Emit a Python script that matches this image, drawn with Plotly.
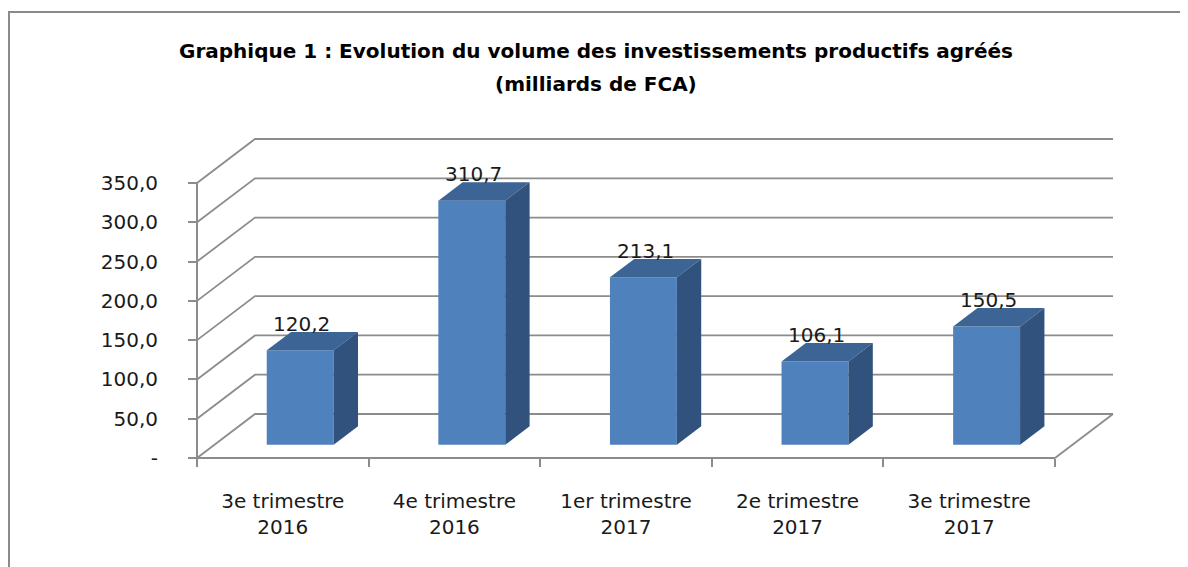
import plotly.graph_objects as go

# ---------------- data ----------------
categories = ["3e trimestre<br>2016", "4e trimestre<br>2016", "1er trimestre<br>2017",
              "2e trimestre<br>2017", "3e trimestre<br>2017"]
values = [120.2, 310.7, 213.1, 106.1, 150.5]
value_labels = ["120,2", "310,7", "213,1", "106,1", "150,5"]
y_ticks = [0, 50, 100, 150, 200, 250, 300, 350]
y_tick_labels = ["-", "50,0", "100,0", "150,0", "200,0", "250,0", "300,0", "350,0"]
title_line1 = "Graphique 1 : Evolution du volume des investissements productifs agréés"
title_line2 = "(milliards de FCA)"

# ---------------- geometry / style ----------------
W, H = 1188, 567
OFF = 8                                   # page body margin compensation
AX_LEFT_PX, AX_RIGHT_PX = 197 - OFF, 1055 - OFF   # front axis, px from left
AX_ZERO_PX, AX_TOP_PX = 458 - OFF, 183 - OFF      # front axis, px from top
YMAX = y_ticks[-1]
n = len(categories)
px_per_cat = (AX_RIGHT_PX - AX_LEFT_PX) / n
px_per_unit = (AX_ZERO_PX - AX_TOP_PX) / YMAX
DX = 58 / px_per_cat          # depth offset (category units)
DY = 44 / px_per_unit         # depth offset (value units)
ZF, ZB = 0.30, 0.72           # bar depth span
BAR_W = 0.39

x_range = [-0.5 - AX_LEFT_PX / px_per_cat, -0.5 + (W - AX_LEFT_PX) / px_per_cat]
y_range = [-(H - AX_ZERO_PX) / px_per_unit, AX_ZERO_PX / px_per_unit]

FONT = "DejaVu Sans"
GRID = "#8c8c8c"
FRONT = "#4F81BD"
TOP = "#3C6494"
SIDE = "#32527E"
TXT = "#1a1a1a"

fig = go.Figure()
fig.add_trace(go.Bar(
    x=categories, y=values, base=DY * ZF, width=BAR_W,
    offset=-BAR_W / 2 + DX * ZF,
    marker=dict(color=FRONT, line=dict(width=0)),
    hoverinfo="skip", showlegend=False,
))

shapes = []
x0f, x1f = -0.5, n - 0.5
# walls & floor grid
for v in y_ticks:
    shapes.append(dict(type="path", layer="below", line=dict(color=GRID, width=1.8),
                       path=f"M {x0f},{v} L {x0f + DX},{v + DY} L {x1f + DX},{v + DY}"))
shapes.append(dict(type="line", layer="below", line=dict(color=GRID, width=1.8),
                   x0=x1f, y0=0, x1=x1f + DX, y1=DY))
shapes.append(dict(type="line", layer="below", line=dict(color=GRID, width=2),
                   x0=x0f, y0=0, x1=x1f, y1=0))
shapes.append(dict(type="line", layer="below", line=dict(color=GRID, width=2),
                   x0=x0f, y0=0, x1=x0f, y1=YMAX))

# 3D faces of bars
for i, v in enumerate(values):
    xl = i - BAR_W / 2
    xr = i + BAR_W / 2
    yf = v + DY * ZF
    yb = v + DY * ZB
    shapes.append(dict(type="path", layer="above", line=dict(width=0), fillcolor=TOP,
                       path=f"M {xl + DX*ZF},{yf} L {xr + DX*ZF},{yf} L {xr + DX*ZB},{yb} L {xl + DX*ZB},{yb} Z"))
    shapes.append(dict(type="path", layer="above", line=dict(width=0), fillcolor=SIDE,
                       path=f"M {xr + DX*ZF},{DY*ZF} L {xr + DX*ZF},{yf} L {xr + DX*ZB},{yb} L {xr + DX*ZB},{DY*ZB} Z"))

# outer frame
shapes.append(dict(type="rect", xref="paper", yref="paper", layer="below",
                   x0=(9 - OFF) / W, x1=1.05, y0=-0.05, y1=1 - (12 - OFF) / H,
                   line=dict(color="#8a8a8a", width=2)))

annotations = []
for i, (v, lab) in enumerate(zip(values, value_labels)):
    annotations.append(dict(x=i + DX * ZF + 0.01, y=v + DY * ZB, text=lab, showarrow=False,
                            xref="x", yref="y", yanchor="bottom", yshift=-6,
                            font=dict(family=FONT, size=20, color=TXT)))
annotations.append(dict(x=(596 - OFF) / W, y=1 - (51 - OFF) / H, xref="paper", yref="paper",
                        text=title_line1, showarrow=False, yanchor="middle",
                        font=dict(family=FONT, size=20, color="#000000", weight="bold")))
annotations.append(dict(x=(596 - OFF) / W, y=1 - (84 - OFF) / H, xref="paper", yref="paper",
                        text=title_line2, showarrow=False, yanchor="middle",
                        font=dict(family=FONT, size=20, color="#000000", weight="bold")))

fig.update_layout(
    width=W, height=H, margin=dict(l=0, r=0, t=0, b=0),
    paper_bgcolor="white", plot_bgcolor="white",
    shapes=shapes, annotations=annotations, showlegend=False,
    xaxis=dict(type="category", range=x_range, tickson="boundaries", ticks="outside",
               ticklen=8, tickwidth=2, tickcolor=GRID, showline=False, showgrid=False,
               zeroline=False, anchor="free", position=(H - AX_ZERO_PX) / H,
               tickfont=dict(family=FONT, size=20, color=TXT), ticklabelstandoff=29,
               fixedrange=True),
    yaxis=dict(range=y_range, tickvals=y_ticks, ticktext=y_tick_labels, ticks="outside",
               ticklen=9, tickwidth=2, tickcolor=GRID, showline=False, showgrid=False,
               zeroline=False, anchor="free", position=AX_LEFT_PX / W,
               tickfont=dict(family=FONT, size=20, color=TXT), ticklabelstandoff=26,
               fixedrange=True),
)

fig.write_html("out.html")
